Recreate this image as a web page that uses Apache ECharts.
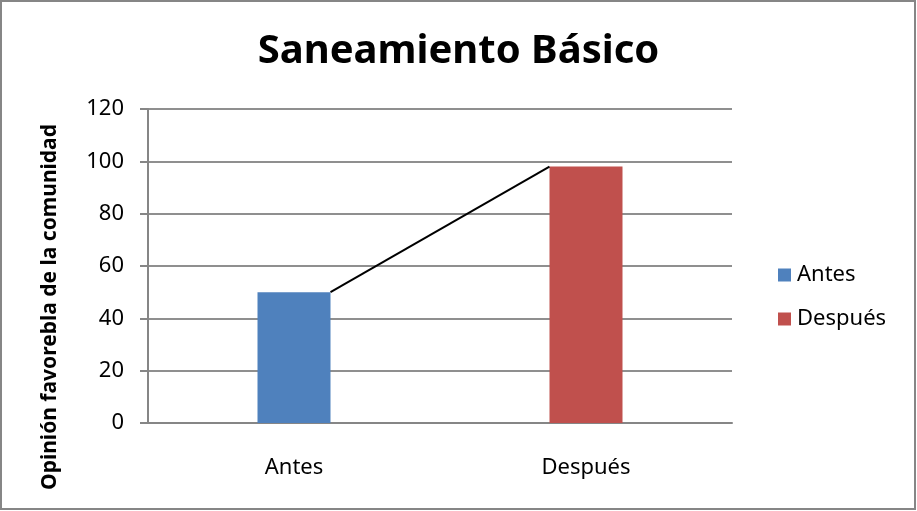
<!DOCTYPE html>
<html><head><meta charset="utf-8">
<script src="https://cdn.jsdelivr.net/npm/echarts@6/dist/echarts.min.js"></script>
<style>html,body{margin:0;padding:0;background:#fff}#c{width:917px;height:511px}</style>
</head><body><div id="c"></div>
<script>
const categories = ['Antes', 'Después'];
const antesValues = [50, '-'];
const despuesValues = ['-', 98];
const lineValues = [50, 98];
const yTicks = {min: 0, max: 120, interval: 20};
const titleText = 'Saneamiento Básico';
const yAxisTitle = 'Opinión favorebla de la comunidad';

const FONT = 'Noto Sans';
const chart = echarts.init(document.getElementById('c'), null, {renderer: 'canvas'});
chart.setOption({
  animation: false,
  backgroundColor: '#fff',
  title: {
    text: titleText, left: 'center', top: 27,
    textStyle: {fontFamily: FONT, fontWeight: 'bold', fontSize: 40, color: '#000'}
  },
  legend: {
    orient: 'vertical', left: 773, top: 259, itemGap: 22,
    itemWidth: 13, itemHeight: 13, icon: 'rect',
    textStyle: {fontFamily: FONT, fontSize: 22, color: '#000', padding: [0, 0, 0, 1]},
    data: ['Antes', 'Después']
  },
  grid: {left: 148, right: 185, top: 109, bottom: 88, containLabel: false},
  xAxis: {
    type: 'category', data: categories,
    axisLine: {lineStyle: {color: '#868686', width: 2}},
    axisTick: {show: false},
    axisLabel: {fontFamily: FONT, fontSize: 22, color: '#000', margin: 34}
  },
  yAxis: {
    type: 'value', min: yTicks.min, max: yTicks.max, interval: yTicks.interval,
    axisLine: {show: true, lineStyle: {color: '#868686', width: 2}},
    axisTick: {show: true, length: 8, lineStyle: {color: '#868686', width: 2}},
    splitLine: {lineStyle: {color: '#8f8f8f', width: 2}},
    axisLabel: {fontFamily: FONT, fontSize: 22, color: '#000', margin: 24}
  },
  graphic: [
    {type: 'rect', shape: {x: 1, y: 1, width: 914, height: 508}, style: {fill: 'none', stroke: '#868686', lineWidth: 2}, silent: true},
    {type: 'text', x: 50, y: 307, rotation: Math.PI / 2,
     style: {text: yAxisTitle, fontFamily: FONT, fontWeight: 'bold', fontSize: 21, fill: '#000', align: 'center', verticalAlign: 'middle'}}
  ],
  series: [
    {name: 'Antes', type: 'bar', data: antesValues, barWidth: '25%', barGap: '-100%', itemStyle: {color: '#4F81BD'}},
    {name: 'Después', type: 'bar', data: despuesValues, barWidth: '25%', barGap: '-100%', itemStyle: {color: '#C0504D'}},
    {name: 'conector', type: 'custom', data: [0], z: 5,
     renderItem: function (params, api) {
       const p1 = api.coord([0, lineValues[0]]);
       const p2 = api.coord([1, lineValues[1]]);
       const half = api.size([1, 0])[0] * 0.125;
       return {type: 'line', shape: {x1: p1[0] + half, y1: p1[1], x2: p2[0] - half, y2: p2[1]},
               style: {stroke: '#000', lineWidth: 2}};
     }}
  ]
});
</script></body></html>
